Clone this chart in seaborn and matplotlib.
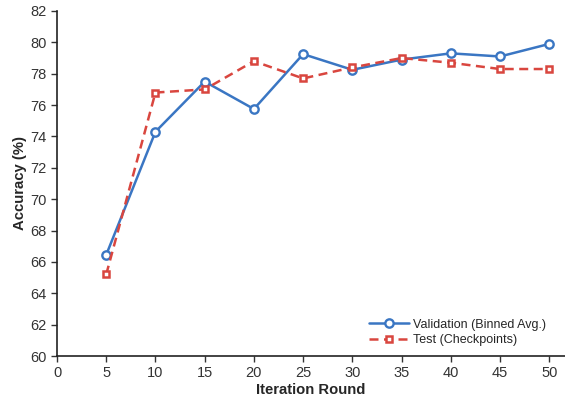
import matplotlib
matplotlib.use('Agg')
import matplotlib.pyplot as plt
import seaborn as sns

# Data
rounds = [5, 10, 15, 20, 25, 30, 35, 40, 45, 50]
val_acc = [66.45, 74.3, 77.5, 75.75, 79.25, 78.25, 78.9, 79.3, 79.1, 79.9]
test_acc = [65.2, 76.8, 77.0, 78.8, 77.7, 78.4, 79.0, 78.7, 78.3, 78.3]
series_names = ['Validation (Binned Avg.)', 'Test (Checkpoints)']
y_ticks = list(range(60, 84, 2))
x_ticks = list(range(0, 55, 5))


def main():
    sns.set_style('ticks')
    plt.rcParams['font.family'] = ['Liberation Sans', 'DejaVu Sans']

    fig = plt.figure(figsize=(5.65, 4.01), dpi=100)
    ax = fig.add_axes([57 / 565, 1 - 356 / 401, (565 - 57) / 565, (356 - 11) / 401])

    sns.lineplot(x=rounds, y=val_acc, color='#3a76c3', marker='o', linestyle='-',
                 linewidth=1.8, markersize=6, markerfacecolor='white',
                 markeredgecolor='#3a76c3', markeredgewidth=1.7,
                 label=series_names[0], ax=ax)
    sns.lineplot(x=rounds, y=test_acc, color='#d9463f', marker='s', linestyle=(0, (3.6, 2.2)),
                 linewidth=1.8, markersize=4.6, markerfacecolor='white',
                 markeredgecolor='#d9463f', markeredgewidth=1.8,
                 label=series_names[1], ax=ax)

    ax.set_xlim(0, 51.6)
    ax.set_ylim(60, 82)
    ax.set_xticks(x_ticks)
    ax.set_yticks(y_ticks)
    ax.tick_params(labelsize=10.5, colors='#333333', length=4, width=1)
    for s in ['left', 'bottom']:
        ax.spines[s].set_color('#222222')
        ax.spines[s].set_linewidth(1.2)
    sns.despine(ax=ax)

    ax.set_xlabel('Iteration Round', fontweight='bold', fontsize=10.7, labelpad=2)
    ax.set_ylabel('Accuracy (%)', fontweight='bold', fontsize=10.7, labelpad=2)

    ax.legend(loc='lower right', frameon=False, fontsize=9, handlelength=3.2,
              handletextpad=0.3, labelspacing=0.3, bbox_to_anchor=(0.985, -0.005))

    plt.savefig('out.png', dpi=100)


if __name__ == '__main__':
    main()
